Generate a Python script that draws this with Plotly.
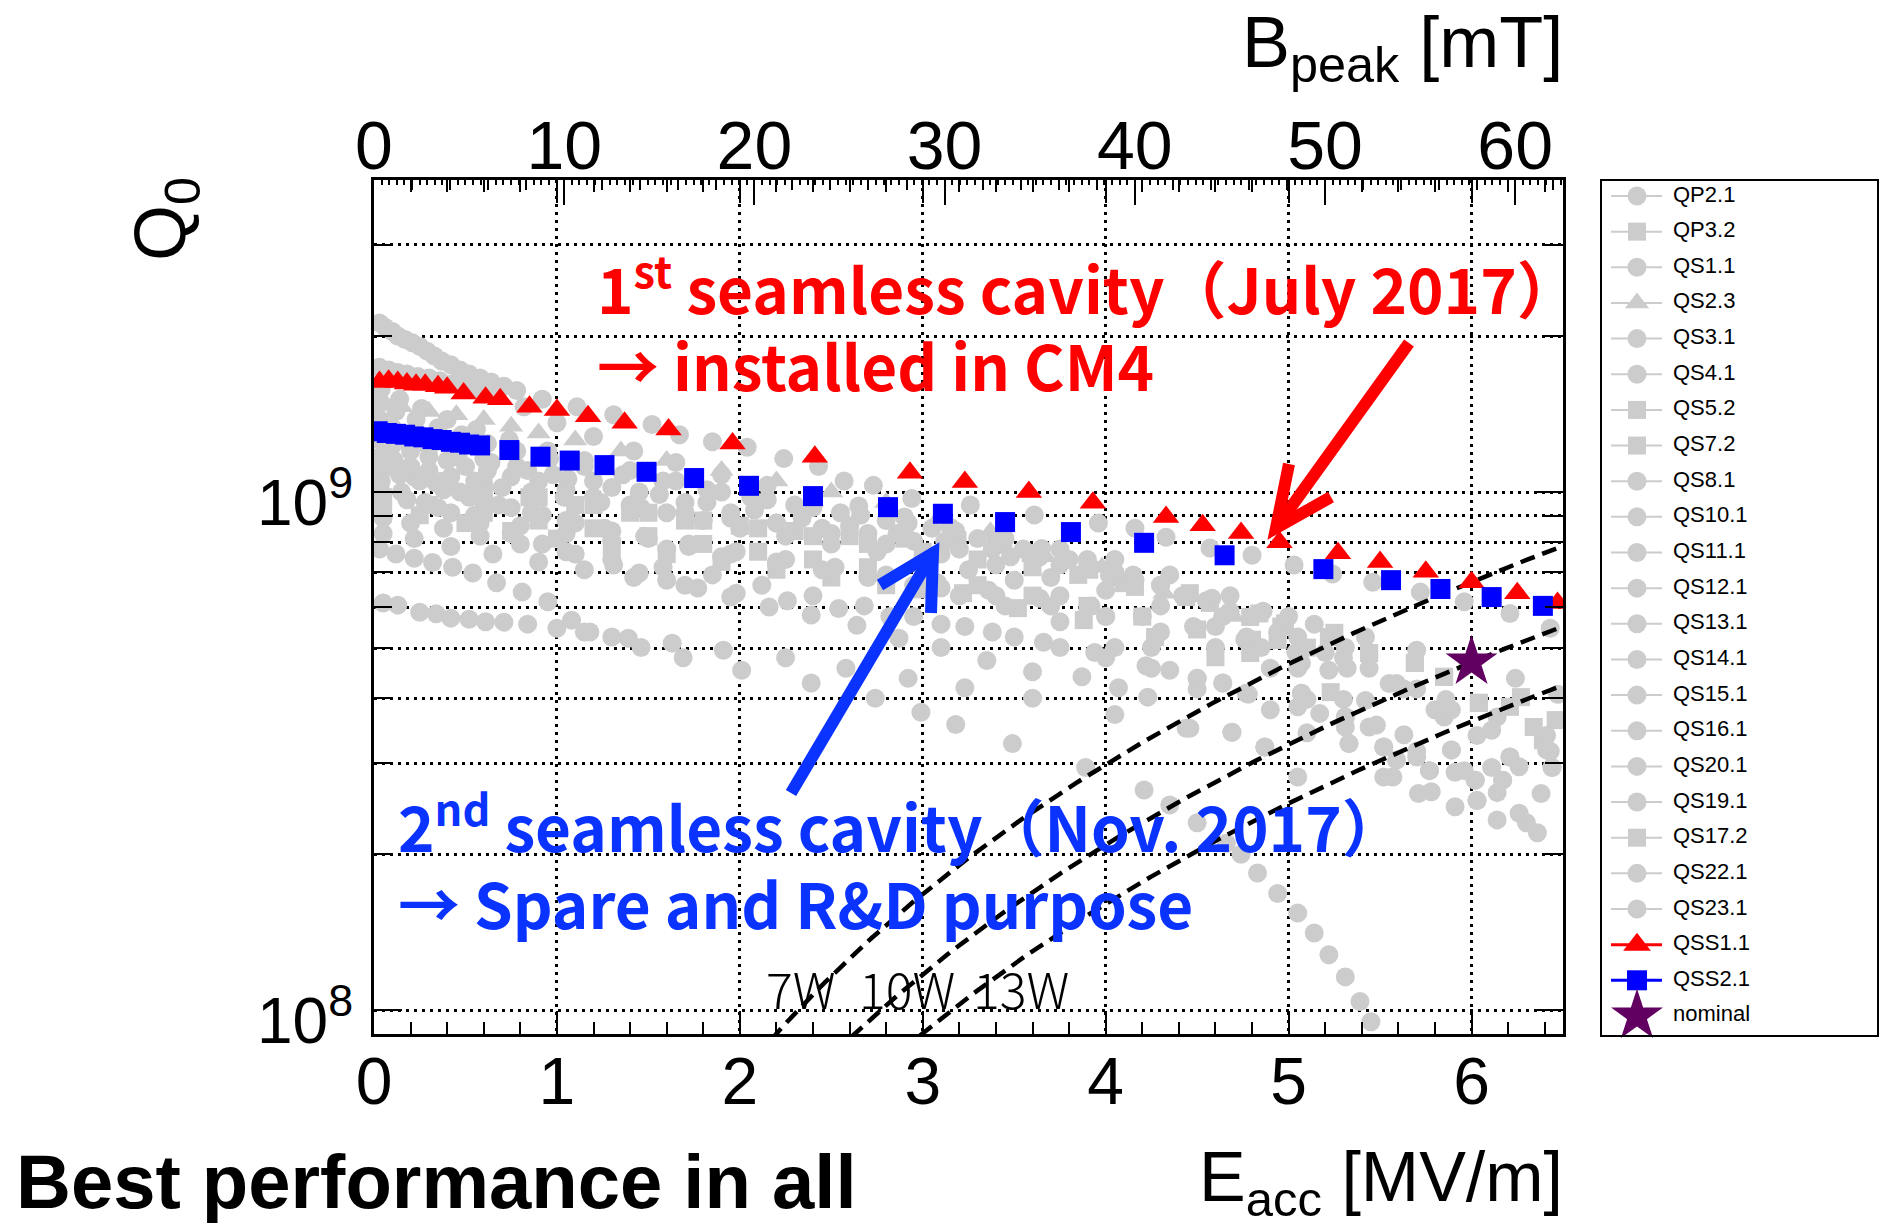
import numpy as np
import plotly.graph_objects as go

# ---------------------------------------------------------------------------
# Vertical-test results: Eacc [MV/m] and Q0 [units of 1e8] for each cavity
# ---------------------------------------------------------------------------
QP2_1_E = [0.03, 0.06, 0.10, 0.13, 0.17, 0.21, 0.25, 0.29, 0.33, 0.37, 0.42, 0.47, 0.52, 0.58, 0.64, 0.71, 0.78, 0.92,
           1.11, 1.31, 1.52, 1.67, 1.85, 2.04, 2.24, 2.43, 2.57, 2.73, 2.94, 3.26, 3.61, 3.96, 4.16, 4.33, 4.57, 4.80,
           5.03, 5.24, 5.46, 5.72, 5.96, 6.21, 6.43]
QP2_1_Q = [21.2, 20.8, 20.4, 20.0, 19.7, 19.4, 19.1, 18.7, 18.3, 17.9, 17.6, 17.2, 16.9, 16.6, 16.3, 16.0, 15.7, 15.1,
           14.6, 14.1, 13.5, 12.9, 12.5, 12.2, 11.6, 11.2, 10.5, 10.3, 9.72, 9.44, 9.03, 8.71, 8.51, 8.18, 7.80, 7.55,
           7.23, 6.95, 6.70, 6.41, 6.14, 5.83, 5.46]

QP3_2_E = [0.05, 0.2, 0.4, 0.6, 0.85, 1.1, 1.4, 1.7, 2.0, 2.3, 2.6, 2.9, 3.19, 3.44, 3.59, 3.91, 4.05, 4.16, 4.44, 4.57,
           4.79, 4.98, 5.25]
QP3_2_Q = [11.5, 11.0, 10.5, 10.0, 9.77, 9.44, 9.12, 8.81, 8.61, 8.41, 8.22, 8.13, 8.07, 7.91, 7.62, 7.08, 6.85, 6.56,
           6.27, 6.11, 5.74, 5.58, 5.35]

QS1_1_E = [0.05, 0.13, 0.25, 0.34, 0.42, 0.52, 0.61, 0.71, 0.84, 1.0, 1.15, 1.30, 1.46, 1.69, 2.01, 2.39, 2.74, 2.99,
           3.18, 3.49, 3.89, 4.21, 4.35, 4.50, 4.66, 4.74, 4.83, 4.94, 5.05, 5.14, 5.22, 5.31, 5.39, 5.45]
QS1_1_Q = [6.11, 6.05, 5.86, 5.82, 5.71, 5.68, 5.62, 5.61, 5.56, 5.46, 5.37, 5.25, 5.01, 4.79, 4.53, 4.28, 4.00, 3.76,
           3.56, 3.27, 2.94, 2.66, 2.49, 2.30, 2.10, 2.00, 1.84, 1.68, 1.54, 1.41, 1.28, 1.16, 1.04, 0.95]

QS2_3_E = [0.05, 0.15, 0.3, 0.45, 0.6, 0.75, 0.9, 1.1, 1.35, 1.6, 1.9, 2.2, 2.5, 2.8, 3.1, 3.37, 3.67, 3.98, 4.32, 4.7,
           5.05]
QS2_3_Q = [15.0, 14.6, 14.3, 14.1, 13.8, 13.4, 13.0, 12.6, 12.0, 11.5, 11.0, 10.5, 10.0, 9.55, 9.02, 8.38, 7.50, 7.16,
           6.38, 5.75, 5.01]

QS3_1_E = [0.03, 0.12, 0.22, 0.32, 0.43, 0.54, 0.67, 0.81, 0.95, 1.08, 1.18, 1.39, 1.63, 1.91, 2.25, 2.58, 2.92, 3.23,
           3.60, 4.05, 4.44, 4.69, 4.87, 5.05]
QS3_1_Q = [7.76, 7.59, 7.45, 7.31, 7.16, 6.98, 6.68, 6.41, 6.14, 5.66, 5.37, 5.22, 5.11, 4.95, 4.79, 4.57, 4.37, 4.19,
           4.00, 3.72, 3.50, 3.44, 3.22, 2.82]

QS4_1_E = [0.04, 0.15, 0.28, 0.42, 0.58, 0.75, 0.92, 1.1, 1.31, 1.45, 1.60, 1.77, 1.95, 2.16, 2.39, 2.64, 2.87, 3.10,
           3.35, 3.60, 3.87, 4.07, 4.23, 4.46, 4.69, 4.87, 5.10, 5.33, 5.52, 5.71, 5.91, 6.03, 6.30]
QS4_1_Q = [10.5, 10.0, 9.55, 9.12, 8.71, 8.32, 7.94, 7.59, 7.23, 6.98, 6.76, 6.53, 6.27, 6.00, 5.79, 5.53, 5.22, 5.01,
           4.73, 4.50, 4.40, 4.19, 4.02, 3.50, 3.44, 3.22, 3.43, 3.27, 3.22, 2.62, 2.47, 2.54, 2.30]

QS5_2_E = [0.05, 0.25, 0.5, 0.75, 1.0, 1.3, 1.6, 1.9, 2.2, 2.5, 2.8, 3.0, 3.22, 3.52, 3.88, 4.27, 4.60, 4.79, 4.94, 5.23]
QS5_2_Q = [9.33, 9.02, 8.71, 8.41, 8.13, 7.85, 7.59, 7.33, 7.08, 6.84, 6.61, 6.49, 6.38, 5.97, 5.66, 5.25, 4.80, 4.89,
           5.18, 4.11]

QS7_2_E = [0.05, 0.3, 0.6, 0.9, 1.2, 1.5, 1.8, 2.1, 2.4, 2.7, 3.0, 3.3, 3.6, 3.85, 4.1, 4.46, 4.84, 4.96, 5.22, 5.44,
           5.69, 5.85, 6.04, 6.27, 6.39]
QS7_2_Q = [11.2, 10.7, 10.2, 9.77, 9.44, 9.12, 8.81, 8.51, 8.22, 7.94, 7.67, 7.41, 7.16, 6.92, 6.67, 6.38, 5.83, 5.50,
           5.25, 4.89, 4.68, 4.40, 3.92, 4.02, 3.32]

QS8_1_E = [0.03, 0.1, 0.2, 0.3, 0.4, 0.5, 0.62, 0.75, 0.9, 1.05, 1.2, 1.4, 1.6, 1.8, 2.0, 2.25, 2.5, 2.75, 3.0, 3.25,
           3.5, 3.75, 4.0, 4.25, 4.5, 4.64, 4.77, 5.07, 5.31, 5.59, 5.77, 6.02, 6.21]
QS8_1_Q = [12.6, 12.3, 12.0, 11.7, 11.5, 11.2, 11.0, 10.7, 10.5, 10.1, 9.77, 9.44, 9.12, 8.81, 8.51, 8.22, 7.94, 7.67,
           7.41, 7.08, 6.76, 6.31, 5.75, 5.01, 4.17, 4.28, 4.09, 4.09, 3.68, 3.04, 2.90, 2.78, 3.08]

QS10_1_E = [0.03, 0.12, 0.22, 0.34, 0.47, 0.6, 0.75, 0.92, 1.1, 1.3, 1.5, 1.72, 1.95, 2.2, 2.45, 2.7, 2.95, 3.2, 3.45,
            3.75, 4.05, 4.35, 4.64, 4.9, 5.17, 5.44, 5.63, 5.89, 6.17, 6.44]
QS10_1_Q = [11.5, 11.1, 10.7, 10.4, 10.0, 9.66, 9.33, 9.02, 8.71, 8.41, 8.13, 7.85, 7.59, 7.33, 7.08, 6.84, 6.61, 6.31,
            6.03, 5.62, 5.01, 4.53, 4.28, 3.80, 3.74, 3.52, 3.40, 3.18, 2.78, 2.94]

QS11_1_E = [0.04, 0.18, 0.35, 0.55, 0.8, 1.05, 1.3, 1.6, 1.9, 2.2, 2.5, 2.8, 3.1, 3.4, 3.7, 4.0, 4.3, 4.6, 4.9, 5.1,
            5.31, 5.52, 5.70, 5.89, 6.02, 6.14, 6.26]
QS11_1_Q = [10.0, 9.66, 9.33, 9.02, 8.61, 8.32, 8.04, 7.76, 7.50, 7.24, 7.00, 6.76, 6.53, 6.31, 6.03, 5.75, 5.37, 5.01,
            4.57, 3.98, 3.68, 3.22, 3.08, 3.18, 2.78, 2.33, 2.40]

QS12_1_E = [0.03, 0.1, 0.2, 0.32, 0.45, 0.6, 0.78, 0.98, 1.2, 1.45, 1.7, 1.95, 2.2, 2.5, 2.8, 3.1, 3.4, 3.7, 4.0, 4.3,
            4.6, 4.85, 5.05, 5.3, 5.48, 5.7, 5.91, 6.14, 6.36]
QS12_1_Q = [13.8, 13.3, 12.9, 12.4, 12.0, 11.6, 11.2, 10.8, 10.5, 10.0, 9.55, 9.12, 8.71, 8.32, 7.94, 7.59, 7.24, 6.84,
            6.46, 6.03, 5.50, 5.01, 4.57, 3.98, 3.55, 3.16, 2.88, 2.63, 2.20]

QS13_1_E = [0.05, 0.2, 0.38, 0.58, 0.8, 1.05, 1.3, 1.58, 1.85, 2.12, 2.4, 2.68, 2.95, 3.23, 3.5, 3.75, 4.0, 4.25, 4.5,
            4.77, 5.07, 5.33, 5.57, 5.78, 6.03, 6.21, 6.44]
QS13_1_Q = [8.91, 8.71, 8.51, 8.22, 7.94, 7.67, 7.41, 7.16, 6.92, 6.61, 6.31, 6.03, 5.75, 5.50, 5.25, 5.01, 4.79, 4.57,
            4.37, 4.09, 4.09, 3.27, 2.82, 2.64, 2.54, 3.08, 2.94]

QS14_1_E = [0.04, 0.14, 0.26, 0.4, 0.56, 0.74, 0.95, 1.15, 1.4, 1.65, 1.9, 2.15, 2.4, 2.66, 2.92, 3.18, 3.45, 3.75,
            4.05, 4.35, 4.68, 5.0, 5.31, 5.63, 5.85, 6.11, 6.41]
QS14_1_Q = [15.8, 15.1, 14.5, 13.8, 13.2, 12.6, 12.0, 11.5, 11.0, 10.5, 10.0, 9.66, 9.33, 9.02, 8.71, 8.41, 8.13, 7.76,
            7.41, 6.92, 6.31, 5.75, 5.01, 4.17, 3.68, 2.94, 3.18]

QS15_1_E = [0.03, 0.08, 0.13, 0.18, 0.24, 0.30, 0.36, 0.43, 0.5, 0.58, 0.65, 0.82, 1.0, 1.2, 1.42, 1.65, 1.9, 2.15,
            2.4, 2.65, 2.9, 3.15, 3.4, 3.65, 3.9, 4.15, 4.44, 4.64, 4.77, 5.07, 5.22, 5.42]
QS15_1_Q = [17.4, 17.2, 17.0, 16.9, 16.7, 16.6, 16.4, 16.2, 16.0, 15.7, 15.4, 14.6, 13.6, 12.8, 12.0, 11.4, 10.8, 10.3,
            9.85, 9.40, 8.95, 8.55, 8.15, 7.78, 7.41, 6.92, 6.31, 5.75, 5.25, 4.68, 4.53, 3.96]

QS16_1_E = [0.05, 0.22, 0.42, 0.65, 0.9, 1.15, 1.42, 1.7, 1.98, 2.26, 2.54, 2.82, 3.1, 3.38, 3.66, 3.94, 4.22, 4.5,
            4.78, 5.05, 5.31, 5.52, 5.77, 5.96, 6.17, 6.38]
QS16_1_Q = [8.32, 8.13, 7.85, 7.59, 7.33, 7.08, 6.84, 6.61, 6.38, 6.17, 5.96, 5.75, 5.56, 5.37, 5.13, 4.90, 4.62, 4.37,
            4.07, 3.85, 3.52, 2.82, 2.90, 2.90, 2.78, 2.62]

QS20_1_E = [0.04, 0.16, 0.3, 0.46, 0.64, 0.84, 1.06, 1.3, 1.56, 1.82, 2.08, 2.34, 2.6, 2.86, 3.12, 3.38, 3.64, 3.9,
            4.16, 4.42, 4.68, 4.94, 5.2, 5.44, 5.7, 5.89, 6.11, 6.43]
QS20_1_Q = [13.2, 12.6, 12.2, 11.7, 11.4, 11.0, 10.6, 10.2, 9.89, 9.55, 9.23, 8.91, 8.61, 8.32, 8.04, 7.76, 7.50, 7.16,
            6.76, 6.31, 5.89, 5.37, 4.90, 4.57, 4.17, 3.80, 3.47, 3.16]

QS19_1_E = [0.03, 0.11, 0.2, 0.3, 0.42, 0.55, 0.7, 0.86, 1.04, 1.24, 1.46, 1.7, 1.95, 2.2, 2.45, 2.7, 2.95, 3.2, 3.48,
            3.75, 4.02, 4.3, 4.58, 4.86, 5.14, 5.42, 5.7, 5.98, 6.24, 6.47]
QS19_1_Q = [11.7, 11.5, 11.2, 11.0, 10.7, 10.5, 10.2, 10.0, 9.77, 9.55, 9.33, 9.12, 8.91, 8.71, 8.51, 8.32, 8.04, 7.76,
            7.50, 7.24, 6.92, 6.61, 6.24, 5.89, 5.56, 5.25, 4.95, 4.68, 4.37, 4.07]

QS17_2_E = [0.05, 0.3, 0.6, 0.9, 1.2, 1.5, 1.8, 2.1, 2.4, 2.7, 3.0, 3.3, 3.6, 3.9, 4.2, 4.5, 4.8, 5.1, 5.44, 5.69,
            5.85, 6.04, 6.21, 6.34, 6.46]
QS17_2_Q = [9.77, 9.44, 9.12, 8.81, 8.51, 8.22, 7.94, 7.67, 7.41, 7.16, 6.92, 6.61, 6.31, 6.03, 5.75, 5.43, 5.19, 5.01,
            4.89, 4.68, 4.40, 3.92, 3.85, 3.52, 3.63]

QS22_1_E = [0.04, 0.14, 0.25, 0.38, 0.52, 0.68, 0.86, 1.05, 1.26, 1.48, 1.72, 1.98, 2.25, 2.52, 2.8, 3.08, 3.36, 3.64,
            3.92, 4.2, 4.48, 4.76, 5.04, 5.32, 5.59, 5.86, 6.14, 6.41]
QS22_1_Q = [11.2, 10.8, 10.5, 10.1, 9.77, 9.44, 9.12, 8.81, 8.51, 8.22, 7.94, 7.67, 7.41, 7.16, 6.92, 6.68, 6.46, 6.24,
            6.03, 5.75, 5.50, 5.19, 4.90, 4.57, 4.27, 3.98, 3.68, 3.39]

QS23_1_E = [0.03, 0.12, 0.23, 0.35, 0.48, 0.62, 0.78, 0.96, 1.15, 1.36, 1.58, 1.82, 2.06, 2.3, 2.55, 2.8, 3.05, 3.3,
            3.55, 3.8, 4.05, 4.3, 4.55, 4.8, 5.05, 5.3, 5.55, 5.8, 6.03, 6.26]
QS23_1_Q = [14.8, 14.3, 13.8, 13.3, 12.9, 12.4, 12.0, 11.6, 11.2, 10.8, 10.5, 10.1, 9.77, 9.44, 9.12, 8.81, 8.51, 8.13,
            7.76, 7.41, 7.00, 6.61, 6.17, 5.75, 5.25, 4.79, 4.27, 3.80, 3.39, 2.95]

# seamless cavities
QSS1_1_E = [0.03, 0.08, 0.13, 0.18, 0.23, 0.28, 0.35, 0.40, 0.49, 0.61, 0.69, 0.85, 1.0, 1.17, 1.37, 1.61, 1.96, 2.41,
            2.93, 3.23, 3.58, 3.93, 4.33, 4.53, 4.74, 4.95, 5.27, 5.50, 5.75, 6.00, 6.25, 6.47]
QSS1_1_Q = [16.3, 16.4, 16.3, 16.2, 16.1, 16.1, 16.0, 15.9, 15.5, 15.2, 15.1, 14.6, 14.4, 14.0, 13.6, 13.2, 12.4, 11.7,
            10.9, 10.45, 10.0, 9.53, 8.95, 8.63, 8.34, 8.00, 7.62, 7.33, 7.02, 6.70, 6.38, 6.11]

QSS2_1_E = [0.02, 0.07, 0.12, 0.17, 0.22, 0.27, 0.32, 0.37, 0.42, 0.47, 0.52, 0.58, 0.74, 0.91, 1.07, 1.26, 1.49, 1.75,
            2.05, 2.40, 2.81, 3.11, 3.45, 3.81, 4.21, 4.65, 5.19, 5.56, 5.83, 6.11, 6.39]
QSS2_1_Q = [13.1, 13.0, 12.95, 12.9, 12.8, 12.75, 12.65, 12.6, 12.5, 12.45, 12.35, 12.3, 12.05, 11.7, 11.5, 11.27,
            10.94, 10.64, 10.28, 9.82, 9.35, 9.08, 8.75, 8.37, 7.98, 7.55, 7.10, 6.76, 6.50, 6.27, 6.03]

# design goal
NOMINAL_E = [6.0]
NOMINAL_Q = [4.7]

Q_UNIT = 1e8

# constant dynamic-loss lines: Q0 = C_LOSS * Eacc^2 / P  (P in W, Eacc in MV/m)
C_LOSS = 1.304e8
LOSS_POWERS = [7, 10, 13]
LOSS_LABELS = ["7W", "10W", "13W"]

# labelled decades of the Q0 axis
Q_DECADES = [8, 9]

B_PER_E = 9.618          # Bpeak / Eacc  [mT / (MV/m)]
E_RANGE = [0.0, 6.5]
Q_RANGE = [9e7, 4e9]

# ---------------------------------------------------------------------------
# Page geometry (pixels)
# ---------------------------------------------------------------------------
W, H = 1880, 1223
FX0, FX1, FY0, FY1 = 374, 1563, 180, 1034      # plot frame
LX0, LX1, LY0, LY1 = 1601, 1878, 180, 1036     # legend box


def fx(p):
    return p / W


def fy(p):
    return 1 - p / H


SANS = "Liberation Sans, Arial, Helvetica, sans-serif"
CJK = "Noto Sans CJK JP, Noto Sans, sans-serif"
GRAY = "#cccccc"
RED = "#ff0000"
BLUE = "#0000ff"
PURPLE = "#610061"
TXT_BLUE = "#0a33ff"

SIZES = {"circle": 19, "square": 18, "triangle-up": 21}

gray_series = [
    ("QP2.1", "circle", QP2_1_E, QP2_1_Q),
    ("QP3.2", "square", QP3_2_E, QP3_2_Q),
    ("QS1.1", "circle", QS1_1_E, QS1_1_Q),
    ("QS2.3", "triangle-up", QS2_3_E, QS2_3_Q),
    ("QS3.1", "circle", QS3_1_E, QS3_1_Q),
    ("QS4.1", "circle", QS4_1_E, QS4_1_Q),
    ("QS5.2", "square", QS5_2_E, QS5_2_Q),
    ("QS7.2", "square", QS7_2_E, QS7_2_Q),
    ("QS8.1", "circle", QS8_1_E, QS8_1_Q),
    ("QS10.1", "circle", QS10_1_E, QS10_1_Q),
    ("QS11.1", "circle", QS11_1_E, QS11_1_Q),
    ("QS12.1", "circle", QS12_1_E, QS12_1_Q),
    ("QS13.1", "circle", QS13_1_E, QS13_1_Q),
    ("QS14.1", "circle", QS14_1_E, QS14_1_Q),
    ("QS15.1", "circle", QS15_1_E, QS15_1_Q),
    ("QS16.1", "circle", QS16_1_E, QS16_1_Q),
    ("QS20.1", "circle", QS20_1_E, QS20_1_Q),
    ("QS19.1", "circle", QS19_1_E, QS19_1_Q),
    ("QS17.2", "square", QS17_2_E, QS17_2_Q),
    ("QS22.1", "circle", QS22_1_E, QS22_1_Q),
    ("QS23.1", "circle", QS23_1_E, QS23_1_Q),
]

fig = go.Figure()

# grey cloud of all earlier cavities
for name, sym, e, q in gray_series:
    fig.add_trace(go.Scatter(
        x=e, y=[v * Q_UNIT for v in q], mode="markers", name=name,
        marker=dict(symbol=sym, size=SIZES[sym], color=GRAY, line=dict(width=0)),
        showlegend=False, hoverinfo="skip"))

# constant-loss curves
e_line = np.linspace(1.5, 6.6, 160)
for p in LOSS_POWERS:
    fig.add_trace(go.Scatter(
        x=e_line, y=C_LOSS * e_line ** 2 / p, mode="lines",
        line=dict(color="black", width=4.5, dash="15px,8px"),
        showlegend=False, hoverinfo="skip"))

# seamless cavities and nominal point
fig.add_trace(go.Scatter(
    x=QSS1_1_E, y=[v * Q_UNIT for v in QSS1_1_Q], mode="markers", name="QSS1.1",
    marker=dict(symbol="triangle-up", size=23, color=RED, line=dict(width=0)),
    showlegend=False, hoverinfo="skip"))
fig.add_trace(go.Scatter(
    x=QSS2_1_E, y=[v * Q_UNIT for v in QSS2_1_Q], mode="markers", name="QSS2.1",
    marker=dict(symbol="square", size=20, color=BLUE, line=dict(width=0)),
    showlegend=False, hoverinfo="skip"))
fig.add_trace(go.Scatter(
    x=NOMINAL_E, y=[v * Q_UNIT for v in NOMINAL_Q], mode="markers", name="nominal",
    marker=dict(symbol="star", size=39, color=PURPLE, line=dict(width=0)),
    showlegend=False, hoverinfo="skip"))

# empty traces so that the Bpeak overlay axes are drawn
for ax in ("x2", "x3"):
    fig.add_trace(go.Scatter(x=[None], y=[None], xaxis=ax, yaxis="y", showlegend=False, hoverinfo="skip"))

# ---------------------------------------------------------------------------
# Legend (drawn on its own pixel-scaled axes)
# ---------------------------------------------------------------------------
legend_items = [(n, s, GRAY, SIZES[s], 2) for n, s, _, _ in gray_series]
legend_items += [("QSS1.1", "triangle-up", RED, 24, 3),
                 ("QSS2.1", "square", BLUE, 20, 3),
                 ("nominal", "star", PURPLE, 39, 0)]
row0, row_step = 196, 35.65
rows = [row0 + i * row_step for i in range(len(legend_items))]
for (name, sym, col, size, lw), yy in zip(legend_items, rows):
    if lw:
        fig.add_trace(go.Scatter(x=[1611, 1662], y=[yy, yy], mode="lines", xaxis="x4", yaxis="y2",
                                 line=dict(color=col, width=lw), showlegend=False, hoverinfo="skip"))
    fig.add_trace(go.Scatter(x=[1637], y=[yy], mode="markers", xaxis="x4", yaxis="y2",
                             marker=dict(symbol=sym, size=size, color=col, line=dict(width=0)),
                             showlegend=False, hoverinfo="skip", cliponaxis=False))
fig.add_trace(go.Scatter(x=[1673] * len(rows), y=rows, mode="text", xaxis="x4", yaxis="y2",
                         text=[it[0] for it in legend_items], textposition="middle right",
                         textfont=dict(family=SANS, size=22, color="black"),
                         showlegend=False, hoverinfo="skip", cliponaxis=False))

# ---------------------------------------------------------------------------
# Axes
# ---------------------------------------------------------------------------
dot_grid = dict(showgrid=True, gridcolor="black", gridwidth=2.5, griddash="3px,5px")
b_range = [0, E_RANGE[1] * B_PER_E]
minor_y = [k * 1e8 for k in range(2, 10)] + [2e9, 3e9]

fig.update_layout(
    width=W, height=H, margin=dict(l=0, r=0, t=0, b=0, autoexpand=False),
    paper_bgcolor="white", plot_bgcolor="white", showlegend=False,
    xaxis=dict(domain=[fx(FX0), fx(FX1)], range=E_RANGE, anchor="y", automargin=False,
               tickmode="linear", tick0=0, dtick=1, ticks="inside", ticklen=23, tickwidth=2,
               tickcolor="black", showline=True, linewidth=3, linecolor="black", mirror="ticks",
               zeroline=False, tickfont=dict(family=SANS, size=66, color="black"),
               ticklabelstandoff=-12,
               minor=dict(tick0=0, dtick=0.2, ticks="inside", ticklen=12, tickwidth=2,
                          tickcolor="black", showgrid=False),
               **dot_grid),
    xaxis2=dict(overlaying="x", anchor="y", side="top", range=b_range, automargin=False,
                tickmode="linear", tick0=0, dtick=10, ticks="inside", ticklen=25, tickwidth=2,
                tickcolor="black", showline=False, showgrid=False, zeroline=False,
                tickfont=dict(family=SANS, size=68, color="black"), ticklabelstandoff=-4,
                minor=dict(tick0=0, dtick=2, ticks="inside", ticklen=10, tickwidth=2,
                           tickcolor="black", showgrid=False)),
    xaxis3=dict(overlaying="x", anchor="y", side="top", range=b_range, automargin=False,
                tickmode="linear", tick0=0, dtick=0.4, ticks="inside", ticklen=5, tickwidth=1.5,
                tickcolor="black", showticklabels=False, showline=False, showgrid=False, zeroline=False),
    yaxis=dict(domain=[fy(FY1), fy(FY0)], type="log", automargin=False,
               range=[np.log10(Q_RANGE[0]), np.log10(Q_RANGE[1])], anchor="x",
               tickmode="array", tickvals=[10.0 ** d for d in Q_DECADES], showticklabels=False,
               ticks="inside", ticklen=28, tickwidth=2, tickcolor="black",
               showline=True, linewidth=3, linecolor="black", mirror="ticks", zeroline=False,
               minor=dict(tickmode="array", tickvals=minor_y, ticks="inside", ticklen=18, tickwidth=2,
                          tickcolor="black", **dot_grid),
               **dot_grid),
    xaxis4=dict(domain=[fx(LX0), fx(LX1)], range=[LX0, LX1], anchor="y2", visible=False),
    yaxis2=dict(domain=[fy(LY1), fy(LY0)], range=[LY1, LY0], anchor="x4", visible=False),
)

# legend frame
shapes = [dict(type="rect", xref="paper", yref="paper", x0=fx(LX0), x1=fx(LX1), y0=fy(LY1), y1=fy(LY0),
               line=dict(color="black", width=2), fillcolor="rgba(0,0,0,0)")]


def arrow(tail, tip, arm1, arm2, color):
    """Thick arrow with an open V head, all points in pixels."""
    sh = [dict(type="line", xref="paper", yref="paper",
               x0=fx(tail[0]), y0=fy(tail[1]), x1=fx(tip[0]), y1=fy(tip[1]),
               line=dict(color=color, width=12))]
    path = "M {:.5f},{:.5f} L {:.5f},{:.5f} L {:.5f},{:.5f}".format(
        fx(arm1[0]), fy(arm1[1]), fx(tip[0]), fy(tip[1]), fx(arm2[0]), fy(arm2[1]))
    sh.append(dict(type="path", xref="paper", yref="paper", path=path,
                   line=dict(color=color, width=12)))
    return sh


shapes += arrow((1409, 343), (1276, 528), (1289, 464), (1331, 497), RED)
shapes += arrow((791, 793), (933, 553), (880, 585), (931, 613), TXT_BLUE)
fig.update_layout(shapes=shapes)

# ---------------------------------------------------------------------------
# Text
# ---------------------------------------------------------------------------
ann = []


def text(x, y, s, size, family, color="black", xanchor="left", yanchor="bottom", weight="normal", angle=0):
    ann.append(dict(x=fx(x), y=fy(y), xref="paper", yref="paper", text=s, showarrow=False,
                    xanchor=xanchor, yanchor=yanchor, textangle=angle,
                    font=dict(family=family, size=size, color=color, weight=weight)))


# decade labels of the Q0 axis, placed at their axis values
for d in Q_DECADES:
    ann.append(dict(x=fx(355), xref="paper", y=d, yref="y", text="10<sup>%d</sup>" % d,
                    showarrow=False, xanchor="right", yanchor="middle", yshift=-6,
                    font=dict(family=SANS, size=64, color="black")))

CAP = 62
text(595, 315 + 19, "1<sup>st</sup> seamless cavity（July 2017）", CAP, CJK, RED, weight="bold")
text(595, 392 + 19, "→ installed in CM4", CAP, CJK, RED, weight="bold")
text(396, 853 + 19, "2<sup>nd</sup> seamless cavity（Nov. 2017）", CAP, CJK, TXT_BLUE, weight="bold")
text(396, 930 + 19, "→ Spare and R&amp;D purpose", CAP, CJK, TXT_BLUE, weight="bold")

for lbl, x0 in zip(LOSS_LABELS, [764, 857, 971]):
    text(x0, 1010 + 15, lbl, 50, CJK, "black", weight=300)

text(1565, 0, "B<sub>peak</sub> [mT]", 72, SANS, xanchor="right", yanchor="top")
text(1565, 1136, "E<sub>acc</sub> [MV/m]", 70, SANS, xanchor="right", yanchor="top")
text(14, 1137, "Best performance in all", 76, SANS, yanchor="top", weight="bold")
text(165, 219, "Q<sub>0</sub>", 72, SANS, xanchor="center", yanchor="middle", angle=-90)

fig.update_layout(annotations=ann)

fig.write_html("out.html")
